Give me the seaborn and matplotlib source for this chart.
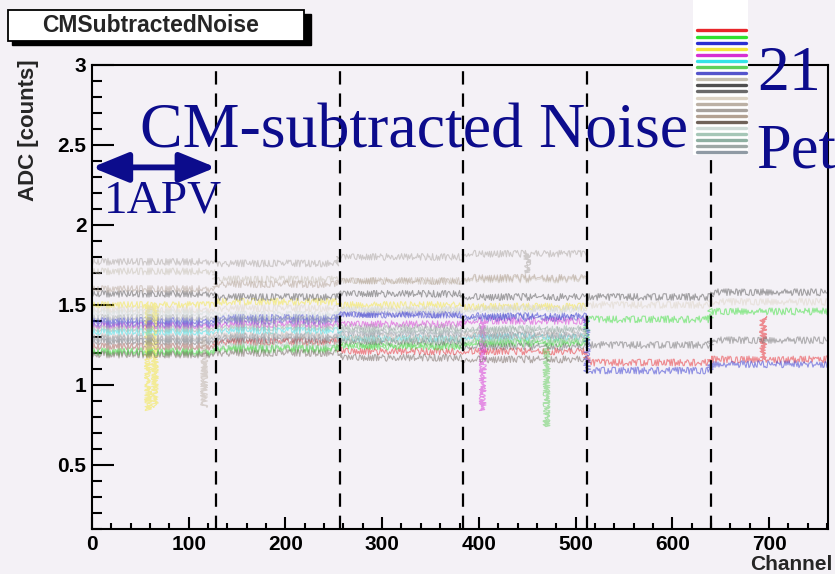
import numpy as np
import pandas as pd
import matplotlib
matplotlib.use("Agg")
import matplotlib.pyplot as plt
from matplotlib.lines import Line2D
from matplotlib.patches import Rectangle
from matplotlib.ticker import MultipleLocator, FormatStrFormatter
import seaborn as sns

# APV chips: 128 channels each
apv_edges = [0, 128, 256, 384, 512, 640, 768]
apv_boundaries = [128, 256, 384, 512, 640]

# 21 modules, noise level per APV (nan = module has only 4 APVs)
module_colors = ["#e8262b", "#2fe02f", "#2a2fd0", "#f3e63a", "#d62fd3", "#35e3e6",
                 "#5fcf5a", "#5555cc", "#c5bfb0", "#505050", "#6a6a6a", "#dcd3c4",
                 "#bcb1a5", "#a8a29d", "#b3a293", "#6f6259", "#cfdcd8", "#a6c7b7",
                 "#8fb0a2", "#9ea8a6", "#8f9aa4"]
nan = np.nan
module_levels = [
    [1.24, 1.27, 1.21, 1.21, 1.14, 1.16],
    [1.21, 1.23, 1.24, 1.26, 1.41, 1.46],
    [1.40, 1.42, 1.44, 1.43, 1.09, 1.13],
    [1.50, 1.52, 1.50, 1.49, nan, nan],
    [1.37, 1.38, 1.38, 1.40, nan, nan],
    [1.33, 1.34, 1.29, 1.30, nan, nan],
    [1.20, 1.22, 1.25, 1.27, nan, nan],
    [1.38, 1.40, 1.44, 1.42, nan, nan],
    [1.71, 1.66, 1.65, 1.66, nan, nan],
    [1.57, 1.55, 1.57, 1.55, 1.55, 1.58],
    [1.27, 1.28, 1.27, 1.24, 1.25, 1.28],
    [1.47, 1.48, 1.47, 1.48, 1.50, 1.52],
    [1.30, 1.31, 1.30, 1.31, nan, nan],
    [1.77, 1.76, 1.80, 1.82, nan, nan],
    [1.60, 1.63, 1.65, 1.67, nan, nan],
    [1.19, 1.20, 1.17, 1.16, nan, nan],
    [1.45, 1.44, 1.47, 1.47, nan, nan],
    [1.24, 1.25, 1.28, 1.28, nan, nan],
    [1.35, 1.36, 1.34, 1.35, nan, nan],
    [1.42, 1.41, 1.36, 1.34, nan, nan],
    [1.29, 1.30, 1.32, 1.31, nan, nan],
]
# single noisy/dead strips: (module index, channel, value)
spikes = [(3, 58, 0.84), (3, 65, 0.86), (12, 116, 0.86), (4, 404, 0.84),
          (6, 470, 0.74), (0, 694, 1.43), (13, 450, 1.70)]

# build long table
rows = []
for m, levels in enumerate(module_levels):
    for k, lev in enumerate(levels):
        if np.isnan(lev):
            continue
        lo, hi = apv_edges[k], apv_edges[k + 1] - 1
        pts = [(lo, lev)]
        for sm, ch, val in spikes:
            if sm == m and lo <= ch <= hi:
                pts += [(ch, lev), (ch, val), (ch, lev)]
        pts.append((hi, lev))
        for ch, v in pts:
            rows.append({"module": m, "channel": ch, "adc": v})
df = pd.DataFrame(rows)

sns.set_style("ticks")
bg = "#f4f1f6"
navy = "#0c0c8c"
plt.rcParams["font.family"] = ["Liberation Sans", "DejaVu Sans"]

fig = plt.figure(figsize=(8.35, 5.74), dpi=100, facecolor=bg)
W, H = 835, 574
ax = fig.add_axes([92 / W, 45 / H, (828 - 92) / W, (529 - 65) / H], facecolor=bg)

sns.lineplot(data=df, x="channel", y="adc", hue="module", palette=module_colors,
             estimator=None, sort=False, legend=False, lw=0.8, alpha=0.5, ax=ax)
# jagged strip-to-strip look of the noise traces
for ln in ax.lines:
    ln.set_sketch_params(scale=3.4, length=1.3, randomness=2.0)

for b in apv_boundaries:
    ax.axvline(b, color="black", lw=1.6, ls=(0, (6, 4)), zorder=5)

ax.set_xlim(0, 761)
ax.set_ylim(0.1, 3)
ax.xaxis.set_major_locator(MultipleLocator(100))
ax.xaxis.set_minor_locator(MultipleLocator(20))
ax.yaxis.set_major_locator(MultipleLocator(0.5))
ax.yaxis.set_minor_locator(MultipleLocator(0.1))
ax.yaxis.set_major_formatter(FormatStrFormatter("%g"))
ax.tick_params(axis="both", which="both", direction="in", width=1.5, colors="black",
               top=False, right=False)
ax.tick_params(axis="y", which="major", length=16, pad=4)
ax.tick_params(axis="y", which="minor", length=7)
ax.tick_params(axis="x", which="major", length=9, pad=4)
ax.tick_params(axis="x", which="minor", length=4.5)
for lab in ax.get_xticklabels() + ax.get_yticklabels():
    lab.set_fontsize(15)
    lab.set_fontweight("bold")
for sp in ax.spines.values():
    sp.set_visible(True)
    sp.set_linewidth(1.5)
    sp.set_color("black")

ax.set_xlabel("Channel", fontsize=15, fontweight="bold", loc="right")
ax.xaxis.set_label_coords(1.006, -0.055)
ax.set_ylabel("ADC [counts]", fontsize=16, fontweight="bold", loc="top")
ax.yaxis.set_label_coords(-0.072, 1.012)

# 1 APV arrow
ax.annotate("", xy=(0, 2.36), xytext=(128, 2.36),
            arrowprops=dict(arrowstyle="<|-|>,head_length=2.2,head_width=0.9",
                            lw=4.2, color=navy, shrinkA=0, shrinkB=0,
                            mutation_scale=10), zorder=6)

# title pave
fig.add_artist(Rectangle((12 / W, 1 - 45 / H), 299 / W, 31 / H,
                         transform=fig.transFigure, color="black", zorder=3))
fig.add_artist(Rectangle((8 / W, 1 - 41 / H), 296 / W, 31 / H,
                         transform=fig.transFigure, facecolor="white",
                         edgecolor="black", lw=1.3, zorder=3))
fig.text(151 / W, 1 - 26 / H, "CMSubtractedNoise", fontsize=16.5, fontweight="bold",
         ha="center", va="center", zorder=4)

# legend box
fig.add_artist(Rectangle((693 / W, 1 - 155 / H), 55 / W, 155 / H,
                         transform=fig.transFigure, facecolor="white",
                         edgecolor="none", zorder=3))
handles = [Line2D([], [], color=c, lw=2.4) for c in module_colors]
fig.legend(handles, [""] * len(handles), loc="upper left",
           bbox_to_anchor=(697 / W, 1 - 28 / H), frameon=False, fontsize=3.6,
           handlelength=9.8, handleheight=0.5, handletextpad=0, labelspacing=0.22,
           borderpad=0, borderaxespad=0)

# slide overlay texts
serif = ["Liberation Serif", "DejaVu Serif"]
fig.text(140 / W, 1 - 148 / H, "CM-subtracted Noise", fontsize=46, family=serif,
         color=navy, va="baseline", zorder=6)
fig.text(104 / W, 1 - 212 / H, "1APV", fontsize=34, family=serif,
         color=navy, va="baseline", zorder=6)
fig.text(757 / W, 1 - 90 / H, "21", fontsize=46, family=serif,
         color=navy, va="baseline", zorder=6)
fig.text(756 / W, 1 - 168 / H, "Pet", fontsize=45, family=serif,
         color=navy, va="baseline", zorder=6)

fig.savefig("out.png", dpi=100, facecolor=bg)
